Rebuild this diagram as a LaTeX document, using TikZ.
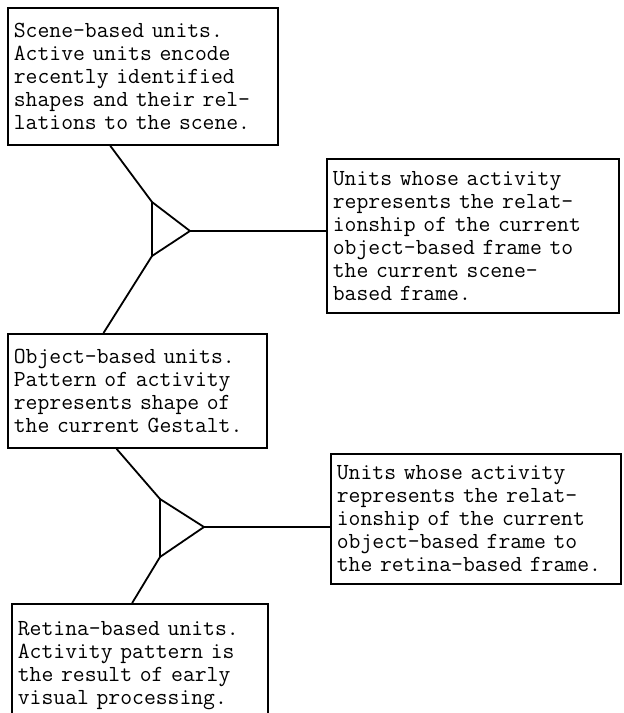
\documentclass[tikz,border=0pt]{standalone}
\usepackage{fontspec}
\usetikzlibrary{calc,positioning}

\begin{document}
\begin{tikzpicture}[x=0.5pt,y=-0.5pt,line width=0.9pt,
  unitbox/.style={draw,anchor=north west,align=left,inner xsep=3pt,
    font=\ttfamily\fontsize{11.5}{11.5}\selectfont}]
\useasboundingbox (0,0) rectangle (624,713);
% boxes
\node[unitbox,text width=129pt,minimum height=68.5pt] (scene) at (7,7)
 {Scene-based units.\\Active units encode\\recently identified\\shapes and their rel-\\lations to the scene.};
\node[unitbox,text width=140pt,minimum height=77pt] (relscene) at (326,158)
 {Units whose activity\\represents the relat-\\ionship of the current\\object-based frame to\\the current scene-\\based frame.};
\node[unitbox,text width=123.5pt,minimum height=57pt] (object) at (7,333)
 {Object-based units.\\Pattern of activity\\represents shape of\\the current Gestalt.};
\node[unitbox,text width=139pt,minimum height=65pt] (relretina) at (330,453)
 {Units whose activity\\represents the relat-\\ionship of the current\\object-based frame to\\the retina-based frame.};
\node[unitbox,text width=122pt,minimum height=62pt] (retina) at (11,603)
 {Retina-based units.\\Activity pattern is\\the result of early\\visual processing.};
% triangles
\coordinate (t1a) at (152,202);
\coordinate (t1b) at (152,256);
\coordinate (t1r) at (190,231);
\coordinate (t2a) at (160,499);
\coordinate (t2b) at (160,557);
\coordinate (t2r) at (204,527);
\draw (t1a) -- (t1b) -- (t1r) -- cycle;
\draw (t2a) -- (t2b) -- (t2r) -- cycle;
% connectors
\draw ($(scene.south west)!.38!(scene.south east)$) -- (t1a);
\draw (t1b) -- ($(object.north west)!.37!(object.north east)$);
\draw (t1r) -- (t1r -| relscene.west);
\draw ($(object.south west)!.42!(object.south east)$) -- (t2a);
\draw (t2b) -- ($(retina.north west)!.47!(retina.north east)$);
\draw (t2r) -- (t2r -| relretina.west);
\end{tikzpicture}
\end{document}
